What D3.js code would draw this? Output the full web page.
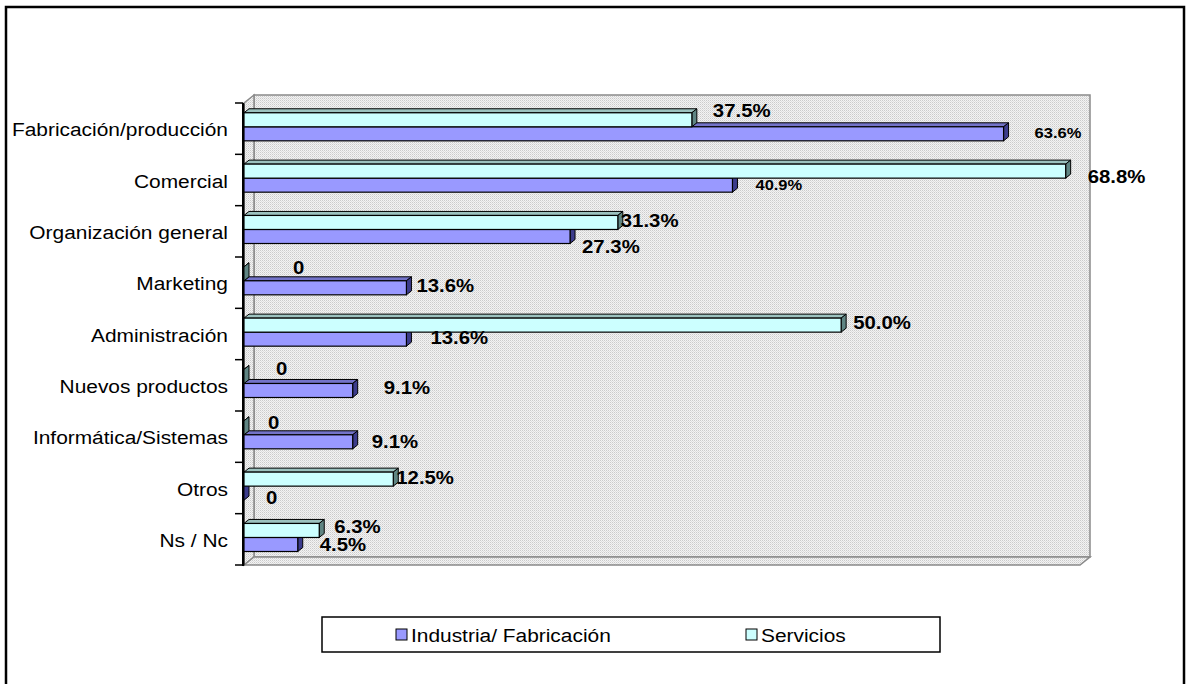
<!DOCTYPE html>
<html>
<head>
<meta charset="utf-8">
<script src="https://cdn.jsdelivr.net/npm/d3@7"></script>
<style>
  html, body { margin: 0; padding: 0; background: #fff; }
  svg { display: block; font-family: Arial, "Liberation Sans", sans-serif; }
</style>
</head>
<body>
<svg id="chart" width="1187" height="684"></svg>
<script>
// Areas of activity, top to bottom
const categories = [
  "Fabricación/producción", "Comercial", "Organización general", "Marketing",
  "Administración", "Nuevos productos", "Informática/Sistemas", "Otros ", "Ns / Nc"
];
const seriesNames = ["Industria/ Fabricación", "Servicios"];

// Percentages per sector
const industria = [63.6, 40.9, 27.3, 13.6, 13.6, 9.1, 9.1, 0, 4.5];
const servicios = [37.5, 68.8, 31.3, 0, 50.0, 0, 0, 12.5, 6.3];

// Hand-placed value label offsets (from bar end / bar centre)
const industriaLabelShift = [[31,-1],[23,0],[12,10],[10,-2],[24,-2],[31,-3],[19,0],[22,4],[22,0]];
const serviciosLabelShift = [[21,-9],[22,5],[3,-2],[49,-6],[12,-3],[32,-8],[24,-5],[3,-2],[15,-4]];
const smallIndustriaLabels = [0, 1];

const svg = d3.select("#chart");

// outer frame
svg.append("rect").attr("x", 6).attr("y", 7).attr("width", 1178).attr("height", 690)
  .attr("fill", "#fff").attr("stroke", "#000").attr("stroke-width", 2.5);

// wall texture
const defs = svg.append("defs");
const pat = defs.append("pattern").attr("id", "wallTex").attr("patternUnits", "userSpaceOnUse")
  .attr("width", 2).attr("height", 2);
pat.append("rect").attr("width", 2).attr("height", 2).attr("fill", "#f3f3f3");
pat.append("rect").attr("x", 0).attr("y", 0).attr("width", 1).attr("height", 1).attr("fill", "#cbcbcb");
pat.append("rect").attr("x", 1).attr("y", 1).attr("width", 1).attr("height", 1).attr("fill", "#dedede");

// plot geometry
const front = { left: 244, top: 103, bottom: 565 };
const depth = { dx: 10, dy: -8 };
const x = d3.scaleLinear().domain([0, 70]).range([front.left, 1080]);
const y = d3.scaleBand().domain(categories).range([front.top, front.bottom]).paddingInner(0).paddingOuter(0);
const sub = d3.scaleBand().domain(["Servicios", "Industria"]).range([0, y.bandwidth()])
  .paddingInner(0).paddingOuter(0.83).align(0.42);

const wallStroke = "#8a8a8a";
const backX0 = x(0) + depth.dx, backY0 = front.top + depth.dy;
const backX1 = x(70) + depth.dx, backY1 = front.bottom + depth.dy;

// back wall
svg.append("rect").attr("x", backX0).attr("y", backY0)
  .attr("width", backX1 - backX0).attr("height", backY1 - backY0)
  .attr("fill", "url(#wallTex)").attr("stroke", wallStroke).attr("stroke-width", 1.5);
// side wall
svg.append("polygon")
  .attr("points", [[x(0), front.top], [backX0, backY0], [backX0, backY1], [x(0), front.bottom]].join(" "))
  .attr("fill", "url(#wallTex)").attr("stroke", wallStroke).attr("stroke-width", 1.5);
// floor
svg.append("polygon")
  .attr("points", [[x(0), front.bottom], [backX0, backY1], [backX1, backY1], [x(70), front.bottom]].join(" "))
  .attr("fill", "url(#wallTex)").attr("stroke", wallStroke).attr("stroke-width", 1.5);

// category axis
const yAxis = d3.axisLeft(y).tickSize(0).tickPadding(16);
const axisG = svg.append("g").attr("transform", `translate(${x(0) - 1},0)`).call(yAxis);
axisG.select(".domain").attr("stroke", "#000").attr("stroke-width", 2);
axisG.selectAll(".tick text").remove();
// boundary ticks between categories
const bounds = categories.map(c => y(c)).concat([front.bottom]);
svg.append("g").selectAll("line").data(bounds).join("line")
  .attr("x1", x(0) - 9).attr("x2", x(0) - 1)
  .attr("y1", d => d).attr("y2", d => d)
  .attr("stroke", "#000").attr("stroke-width", 1.5);
svg.append("line").attr("x1", x(0) - 1).attr("x2", x(0) - 1)
  .attr("y1", front.top).attr("y2", front.bottom + 1)
  .attr("stroke", "#000").attr("stroke-width", 2);

// stretched text helper
function stretchText(g, tx, ty, txt, opts) {
  return g.append("text")
    .attr("transform", `translate(${tx},${ty}) scale(${opts.sx || 1.1},1)`)
    .attr("text-anchor", opts.anchor || "start")
    .attr("dominant-baseline", "central")
    .attr("font-size", opts.size)
    .attr("font-weight", opts.weight || "normal")
    .attr("fill", "#000")
    .text(txt);
}

const labelsG = svg.append("g");
categories.forEach(c => {
  stretchText(labelsG, 228, y(c) + y.bandwidth() / 2 + 1, c, { size: 19, anchor: "end" });
});

// 3D bars
const bd = { dx: 5, dy: -4 };
const styles = {
  Industria: { front: "#9999ff", top: "#7373c8", side: "#3c3c8c" },
  Servicios: { front: "#ccffff", top: "#9cc2bf", side: "#5f8583" }
};
function bar3d(g, v, c, key) {
  const s = styles[key];
  const x0 = x(0), x1 = x(v);
  const y0 = y(c) + sub(key), y1 = y0 + sub.bandwidth();
  g.append("polygon")
    .attr("points", [[x0, y0], [x0 + bd.dx, y0 + bd.dy], [x1 + bd.dx, y0 + bd.dy], [x1, y0]].join(" "))
    .attr("fill", s.top).attr("stroke", "#000").attr("stroke-width", 1).attr("stroke-linejoin", "round");
  g.append("polygon")
    .attr("points", [[x1, y0], [x1 + bd.dx, y0 + bd.dy], [x1 + bd.dx, y1 + bd.dy], [x1, y1]].join(" "))
    .attr("fill", s.side).attr("stroke", "#000").attr("stroke-width", 1).attr("stroke-linejoin", "round");
  g.append("rect").attr("x", x0).attr("y", y0).attr("width", x1 - x0).attr("height", y1 - y0)
    .attr("fill", s.front).attr("stroke", "#000").attr("stroke-width", 1.2);
}
const barsG = svg.append("g");
categories.forEach((c, i) => {
  bar3d(barsG, industria[i], c, "Industria");
  bar3d(barsG, servicios[i], c, "Servicios");
});

// value labels
const fmt = v => v === 0 ? "0" : v.toFixed(1) + "%";
const valG = svg.append("g");
categories.forEach((c, i) => {
  const ys = y(c) + sub("Servicios") + sub.bandwidth() / 2;
  const yi = y(c) + sub("Industria") + sub.bandwidth() / 2;
  stretchText(valG, x(servicios[i]) + serviciosLabelShift[i][0], ys + serviciosLabelShift[i][1],
    fmt(servicios[i]), { size: 18.5, weight: "bold" });
  const small = smallIndustriaLabels.includes(i);
  stretchText(valG, x(industria[i]) + industriaLabelShift[i][0], yi + industriaLabelShift[i][1],
    fmt(industria[i]), { size: small ? 15 : 18.5, weight: "bold" });
});

// legend
const lg = svg.append("g");
lg.append("rect").attr("x", 322).attr("y", 617).attr("width", 618).attr("height", 35)
  .attr("fill", "#fff").attr("stroke", "#000").attr("stroke-width", 1.5);
const legendItems = [
  { name: seriesNames[0], key: "Industria", x: 396 },
  { name: seriesNames[1], key: "Servicios", x: 746 }
];
legendItems.forEach(it => {
  lg.append("rect").attr("x", it.x).attr("y", 629).attr("width", 11).attr("height", 11)
    .attr("fill", styles[it.key].front).attr("stroke", "#000").attr("stroke-width", 1);
  stretchText(lg, it.x + 15, 635, it.name, { size: 19 });
});
</script>
</body>
</html>
